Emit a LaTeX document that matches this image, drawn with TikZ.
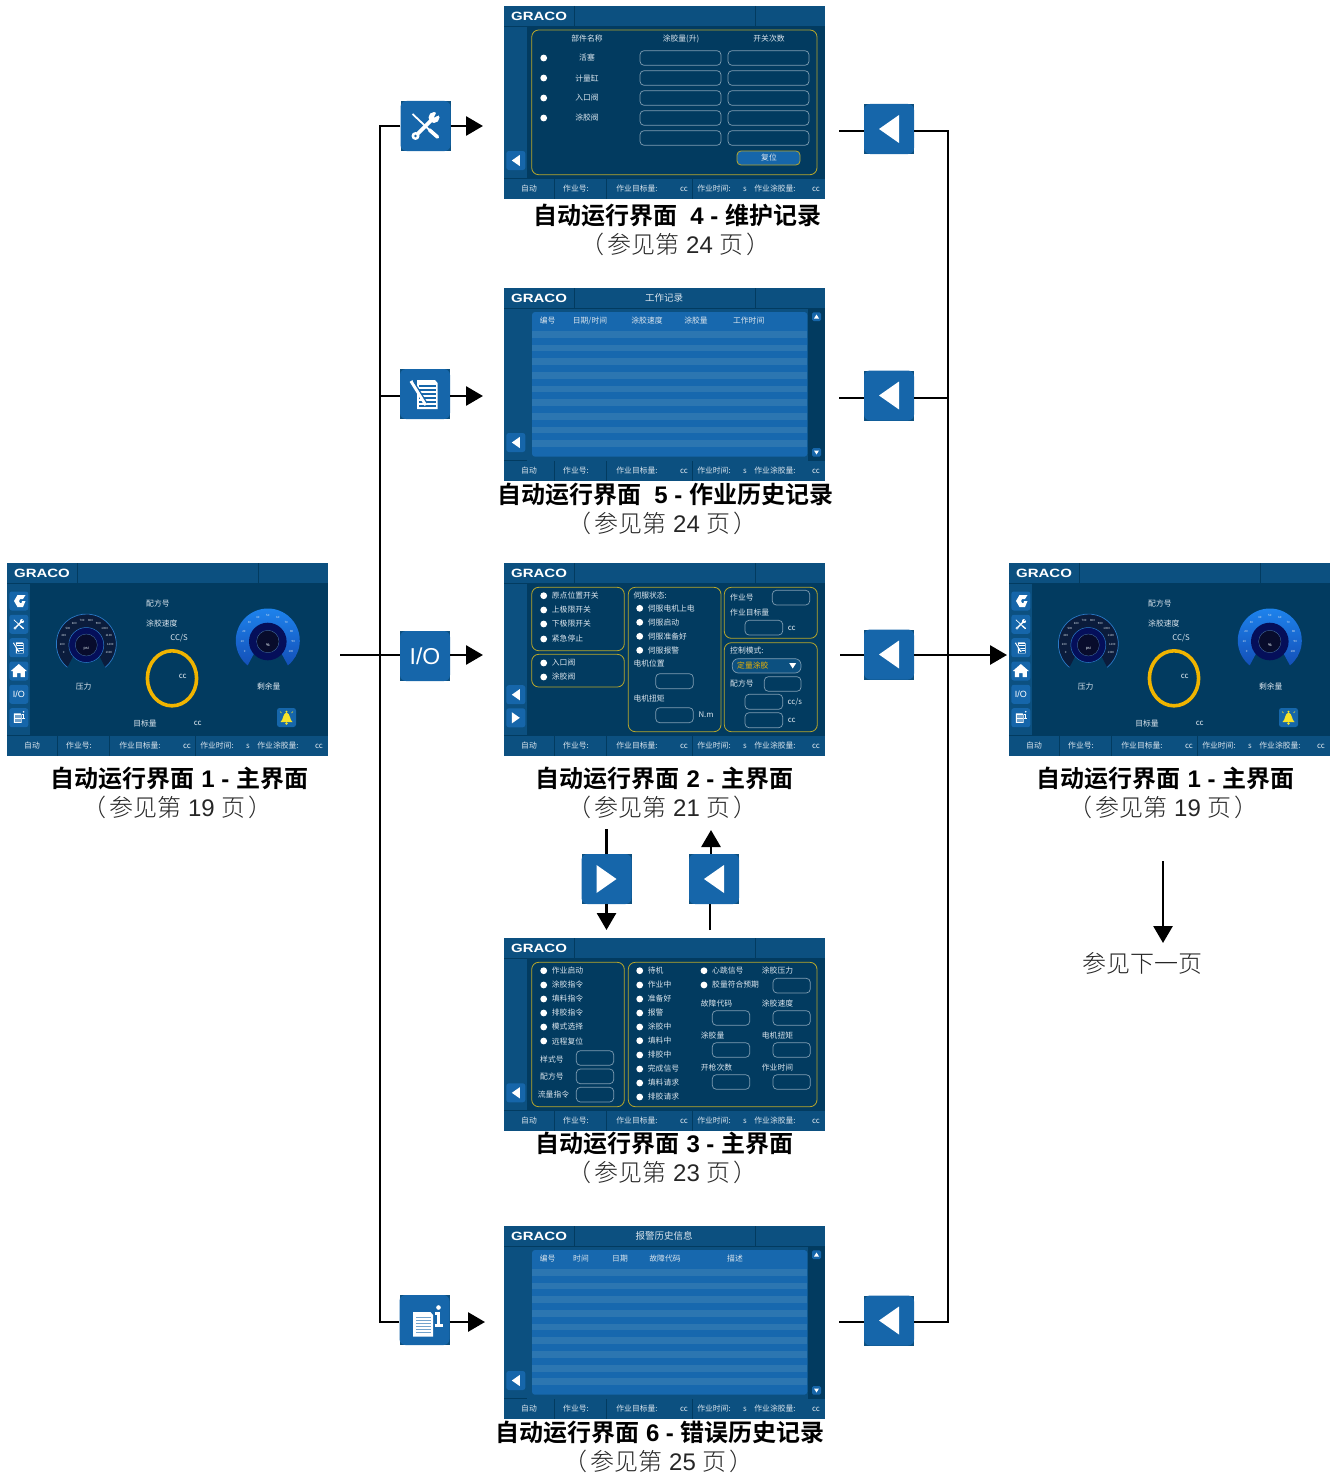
\documentclass[tikz,border=0pt]{standalone}
\usepackage{fontspec}
\setmainfont{Liberation Sans}
\newfontfamily\cjk{Noto Sans CJK SC}
\newfontfamily\cjkbold[UprightFont=*,BoldFont=* Bold]{Noto Sans CJK SC}
\newfontfamily\cjklight[UprightFont=* Light]{Noto Sans CJK SC}
\usetikzlibrary{arrows.meta,positioning,calc}
\definecolor{hdrblue}{HTML}{0C5080}
\definecolor{bodyblue}{HTML}{023B60}
\definecolor{btnblue}{HTML}{1666AA}
\definecolor{tableblue}{HTML}{1768AE}
\definecolor{stripeblue}{HTML}{2C76B1}
\definecolor{panelyellow}{HTML}{B8A72B}
\definecolor{ringyellow}{HTML}{F0B400}
\definecolor{uitext}{HTML}{DCE6EE}
\definecolor{boxline}{HTML}{7F9DB2}
\definecolor{gaugeband}{HTML}{0B1C3C}
\definecolor{gaugeedge}{HTML}{2A7AC8}
\definecolor{gaugenavy}{HTML}{050F5A}
\definecolor{gaugecore}{HTML}{080C2C}
\definecolor{gaugetop}{HTML}{1E86F0}
\definecolor{gaugebot}{HTML}{1450B8}
\definecolor{bellyellow}{HTML}{F6E32A}
\newcommand{\uifont}{\cjk\fontsize{7.8}{8}\selectfont}
\tikzset{
  screenbase/.style={fill=hdrblue,inner sep=0pt,minimum width=321pt,minimum height=193pt},
  corner/.style={fill=hdrblue,inner sep=0pt,minimum size=50pt},
  bigbtn/.style={fill=btnblue,rounded corners=6pt,inner sep=0pt,minimum size=50pt,text=white},
  flowline/.style={line width=2.8pt,line join=miter},
  flowarrow/.style={line width=2.8pt,-{Triangle[length=17pt,width=19pt]}},
  panel/.style={draw=panelyellow,line width=0.8pt,rounded corners=7pt},
  databox/.style={draw=boxline,line width=0.7pt,rounded corners=4pt},
  smallbtn/.style={fill=btnblue,rounded corners=2.5pt},
  maincap/.style={font=\fontsize{24}{26}\selectfont,inner sep=0pt},
  subcap/.style={font=\fontsize{24}{26}\selectfont,inner sep=0pt,black!85},
}

% icons, drawn around (x,y) with a scale
\newcommand{\toolicon}[3]{%
  \begin{scope}[shift={(#1,#2)},scale=#3]
    \draw[white,line width=#3*1.8pt] (-13,-12) -- (4,4);
    \draw[white,line width=#3*3.6pt,line cap=round] (4,4) -- (12,11);
    \draw[white,line width=#3*3.8pt] (-9,9) -- (6,-6);
    \fill[white] (8.5,-8.5) circle (5.5) (-10,10) circle (4);
    \fill[btnblue] (8.5,-8.5) -- (16,-12) -- (12,-16) -- cycle;
    \fill[btnblue] (-10,10) circle (1.3);
  \end{scope}}
\newcommand{\logicon}[3]{%
  \begin{scope}[shift={(#1,#2)},scale=#3]
    \fill[white] (-8,-14) -- (10,-14) -- (12.5,-11) -- (12.5,15) -- (-8,15) -- cycle;
    \foreach \ly in {-8,-4,0,4,8,12}
      \draw[btnblue,line width=#3*1.1pt] (-6,\ly) -- (11,\ly);
    \draw[white,line width=#3*3.2pt] (-14,-13) -- (1,11);
    \draw[btnblue,line width=#3*1.2pt] (-11.5,-13) -- (2,9);
  \end{scope}}
\newcommand{\infoicon}[3]{%
  \begin{scope}[shift={(#1,#2)},scale=#3]
    \fill[white] (-11.5,-8) -- (6,-8) -- (8.5,-5) -- (8.5,16.5) -- (-11.5,16.5) -- cycle;
    \foreach \ly in {-3,0,3,6,9,12}
      \draw[btnblue!60,line width=#3*1pt] (-8.5,\ly) -- (6,\ly);
    \fill[white] (14,-12.5) circle (2.3);
    \draw[white,line width=#3*2.4pt] (10.5,-6.5) -- (14,-6.5) -- (14,5.5) (10,5.5) -- (18,5.5);
  \end{scope}}
\newcommand{\leftarrowhead}[3]{\fill[white] (#1-#3,#2) -- (#1+#3,#2-#3*1.4) -- (#1+#3,#2+#3*1.4) -- cycle;}
\newcommand{\rightarrowhead}[3]{\fill[white] (#1+#3,#2) -- (#1-#3,#2-#3*1.4) -- (#1-#3,#2+#3*1.4) -- cycle;}

% big icon button: name, x, y, text
\newcommand{\bigbutton}[4]{%
  \node[corner] at (#2,#3) {};
  \node[bigbtn] (#1) at (#2,#3) {#4};}

% side buttons in a screen
\newcommand{\sidebtn}[1]{\fill[smallbtn] (2.3,#1-9.5) rectangle (21.3,#1+9.5);}
\newcommand{\backbtn}[1]{\sidebtn{#1}\leftarrowhead{11.8}{#1}{4}}
\newcommand{\fwdbtn}[1]{\sidebtn{#1}\rightarrowhead{11.8}{#1}{4}}
\newcommand{\dbox}[4]{\draw[databox] (#1,#2) rectangle (#3,#4);}
\newcommand{\txt}[3]{\node[inner sep=0pt] at (#1,#2) {#3};}
\newcommand{\ltxt}[3]{\node[anchor=west,inner sep=0pt] at (#1,#2) {#3};}
\newcommand{\ledrows}[2]{%
  \foreach \ly/\lt in {#2} {
    \fill[white] (#1,\ly) circle (3.4pt);
    \node[anchor=west,inner sep=0pt] at (#1+8,\ly) {\lt};
  }}

% one screen: name, x, y, title at the top, body
\newcommand{\screen}[5]{%
  \node[screenbase] (#1) at (#2+160.5,#3+96.5) {};
  \begin{scope}[shift={(#2,#3)},font=\uifont,text=uitext]
    \fill[bodyblue] (23,20.7) rectangle (321,172.5);
    \draw[bodyblue,line width=0.6pt] (0,20.7) -- (321,20.7) (70,0) -- (70,20.7) (251,0) -- (251,20.7)
      (0,172.5) -- (321,172.5) (50,172.5) -- (50,193) (102,172.5) -- (102,193) (188,172.5) -- (188,193);
    \node[inner sep=0pt,font=\fontsize{12}{12}\selectfont\bfseries,text=white] at (35,10.5) {\scalebox{1.25}[1]{GRACO}};
    \node[inner sep=0pt,font=\cjk\fontsize{9.5}{10}\selectfont] at (160,9.5) {#4};
    \txt{25}{183}{自动}
    \txt{72}{183}{作业号:}
    \txt{133}{183}{作业目标量:}
    \txt{180}{183}{cc}
    \txt{210}{183}{作业时间:}
    \txt{241}{183}{s}
    \txt{271}{183}{作业涂胶量:}
    \txt{312}{183}{cc}
    #5
  \end{scope}}

% blue table of the history screens
\newcommand{\historytable}{%
  \fill[hdrblue] (23,20.7) rectangle (304,172.5);
  \fill[tableblue,rounded corners=3pt] (28,24) rectangle (303.3,168.7);
  \foreach \i in {0,...,8}
    \fill[stripeblue] (28,43+\i*13.67) rectangle (303.3,49.8+\i*13.67);
  \fill[btnblue,rounded corners=1.5pt] (308,24.3) rectangle (317,33);
  \fill[btnblue,rounded corners=1.5pt] (308,160) rectangle (317,168.7);
  \fill[white] (312.5,26.5) -- (315,30.5) -- (310,30.5) -- cycle;
  \fill[white] (312.5,166.5) -- (315,162.5) -- (310,162.5) -- cycle;
  \backbtn{154.5}}

% main screen with the gauges
\newcommand{\mainscreen}[3]{%
  \screen{#1}{#2}{#3}{}{%
    \sidebtn{38}\sidebtn{61.3}\sidebtn{84.7}\sidebtn{108}\sidebtn{131.3}\sidebtn{154.7}
    \fill[white] (7,38) -- (10.5,32) -- (18.5,32) -- (16,36) -- (13,36) -- (12,38) -- (13,40) -- (14.5,40) -- (15,38) -- (16.5,38) -- (18.5,38) -- (16,44) -- (10.5,44) -- cycle;
    \toolicon{11.8}{61.3}{0.38}
    \logicon{11.8}{84.7}{0.38}
    \fill[white] (3.8,108) -- (11.8,101) -- (19.8,108) -- (17.8,108) -- (17.8,114) -- (13.5,114) -- (13.5,110) -- (10,110) -- (10,114) -- (5.8,114) -- (5.8,108) -- cycle;
    \node[text=white,inner sep=0pt,font=\fontsize{9}{9}\selectfont] at (11.8,131.3) {I/O};
    \infoicon{11.3}{153.5}{0.38}
    \begin{scope}[shift={(79.3,81)},y=1pt,font=\cjk\fontsize{2.9}{3}\selectfont]
      \fill[gaugeband] (231:30) arc (231:-51:30) -- (-40:16) -- (220:16) -- cycle;
      \draw[gaugeedge,line width=0.7pt] (231:30) arc (231:-51:30);
      \foreach \lab [count=\i from 0] in {0,200,400,500,600,700,800,900,1000,1100,1200,1300} {
        \pgfmathsetmacro\ga{200-\i*220/11}
        \node[inner sep=0pt] at (\ga:24) {\lab};
      }
      \fill[gaugenavy] (0,-1) circle (17.5pt);
      \draw[gaugeedge,line width=0.5pt] (0,-1) circle (17.5pt);
      \fill[gaugecore] (0,-1) circle (11pt);
      \draw[gaugeedge!60!gray,line width=0.3pt] (0,-1) circle (11pt);
      \node[inner sep=0pt,font=\fontsize{4}{4}\selectfont] at (0,-4) {psi};
    \end{scope}
    \begin{scope}[shift={(260.8,77.5)},y=1pt,font=\cjk\fontsize{2.9}{3}\selectfont]
      \shade[top color=gaugetop,bottom color=gaugebot] (231:32) arc (231:-51:32) -- (-40:16) -- (220:16) -- cycle;
      \foreach \lab [count=\i from 0] in {0,10,20,30,40,50,60,70,80,90,100} {
        \pgfmathsetmacro\ga{205-\i*230/10}
        \node[inner sep=0pt] at (\ga:25.5) {\lab};
      }
      \fill[gaugenavy] (0,-1) circle (18.8pt);
      \fill[gaugecore] (0,-1) circle (11.2pt);
      \draw[gaugeedge!60!gray,line width=0.3pt] (0,-1) circle (11.2pt);
      \node[inner sep=0pt,font=\fontsize{4}{4}\selectfont\bfseries] at (0,-5) {\%};
    \end{scope}
    \draw[ringyellow,line width=3.6pt] (165,115.3) ellipse [x radius=24.6pt,y radius=27.5pt];
    \ltxt{139}{41}{配方号}
    \ltxt{139}{61}{涂胶速度}
    \txt{172}{74.7}{CC/S}
    \txt{175.7}{113.3}{cc}
    \txt{76.7}{123.7}{压力}
    \txt{261.7}{123.7}{剩余量}
    \txt{138}{160.7}{目标量}
    \txt{190.7}{160.7}{cc}
    \fill[smallbtn] (270,145) rectangle (289,164);
    \fill[bellyellow] (273.5,159) .. controls (276.5,157) and (275.5,150.5) .. (279.5,149.5) .. controls (283.5,150.5) and (282.5,157) .. (285.5,159) -- cycle;
    \fill[bellyellow] (279.5,160.5) circle (1.4pt) (279.5,148.8) circle (1.1pt);
    \draw[bellyellow,line width=0.6pt] (274.5,150) -- (273,148.5) (284.5,150) -- (286,148.5);
  }}

\newcommand{\capjoin}[3]{{\cjkbold\bfseries #1}{\bfseries #2}{\cjkbold\bfseries #3}}
\newcommand{\pagecap}[1]{{\cjklight\hspace{-3pt}（\hspace{3pt}参见第}\ #1\ {\cjklight 页\hspace{3pt}）\hspace{-3pt}}}

\begin{document}
\begin{tikzpicture}[x=1pt,y=-1pt]
\useasboundingbox (0,0) rectangle (1338,1477);

\mainscreen{scrone}{7}{563}
\mainscreen{scrright}{1009}{563}

\screen{scrfour}{504}{6}{}{%
  \backbtn{154.5}
  \draw[panel] (27.7,24) rectangle (313,168.7);
  \txt{83}{32.7}{部件名称}
  \txt{177}{32.7}{涂胶量(升)}
  \txt{265}{32.7}{开关次数}
  \foreach \ly/\lt in {52/活塞,72/计量缸,92/入口阀,112/涂胶阀} {
    \fill[white] (39.7,\ly) circle (3.4pt);
    \txt{83}{\ly}{\lt}
  }
  \foreach \ly in {52,72,92,112,132} {
    \dbox{136}{\ly-7.3}{217}{\ly+7.3}
    \dbox{224}{\ly-7.3}{305}{\ly+7.3}
  }
  \draw[panelyellow,line width=0.8pt,fill=btnblue,rounded corners=4pt] (233,145) rectangle (296,159);
  \txt{265}{152}{复位}
}

\screen{scrfive}{504}{288}{工作记录}{%
  \historytable
  \txt{43.7}{32.7}{编号}
  \txt{86}{32.7}{日期/时间}
  \txt{143}{32.7}{涂胶速度}
  \txt{192}{32.7}{涂胶量}
  \txt{244.7}{32.7}{工作时间}
}

\screen{scrtwo}{504}{563}{}{%
  \backbtn{131.7}\fwdbtn{154.8}
  \draw[panel] (27.7,24.3) rectangle (120.3,87.7);
  \draw[panel] (27.7,91.3) rectangle (120.3,124);
  \draw[panel] (124.3,24.3) rectangle (217,168.7);
  \draw[panel] (220.3,24.3) rectangle (313.3,75.3);
  \draw[panel] (220.3,79.7) rectangle (313.3,168.7);
  \ledrows{39.7}{32.7/原点位置开关,47/上极限开关,61/下极限开关,76/紧急停止,100/入口阀,114/涂胶阀}
  \ltxt{129.3}{32.7}{伺服状态:}
  \ledrows{135.7}{45.3/伺服电机上电,59.3/伺服启动,73.3/伺服准备好,87.3/伺服报警}
  \ltxt{129.3}{101}{电机位置}
  \dbox{151.7}{110.7}{189.3}{125.7}
  \ltxt{129.3}{135.3}{电机扭矩}
  \dbox{151.7}{144.7}{189.3}{159.7}
  \ltxt{194.3}{152}{N.m}
  \ltxt{226}{35}{作业号}
  \dbox{268.3}{27.3}{305.7}{42}
  \ltxt{226}{49.7}{作业目标量}
  \dbox{241}{57.3}{278.7}{72}
  \ltxt{283.7}{65.3}{cc}
  \ltxt{226}{88}{控制模式:}
  \draw[boxline,line width=0.7pt,fill=hdrblue,rounded corners=6pt] (228.3,95.7) rectangle (297,110);
  \node[anchor=west,inner sep=0pt,text=ringyellow] at (233,102.8) {定量涂胶};
  \fill[white] (285.2,100) -- (292.2,100) -- (288.7,105.5) -- cycle;
  \ltxt{226}{120.3}{配方号}
  \dbox{260.3}{113.7}{297}{128.3}
  \dbox{241}{131.3}{278.7}{146.3}
  \ltxt{283.3}{139}{cc/s}
  \dbox{241}{149.7}{278.7}{164.7}
  \ltxt{283.7}{157.7}{cc}
}

\screen{scrthree}{504}{938}{}{%
  \backbtn{154.8}
  \draw[panel] (27.7,24.3) rectangle (120.3,168.7);
  \draw[panel] (124.3,24.3) rectangle (313,168.7);
  \ledrows{39.7}{32.7/作业启动,47/涂胶指令,61/填料指令,75/排胶指令,89/模式选择,103/远程复位}
  \ltxt{36}{121.3}{样式号}
  \dbox{72.3}{112.7}{109.7}{127.3}
  \ltxt{36}{138.3}{配方号}
  \dbox{72.3}{131}{109.7}{145.7}
  \ltxt{33.7}{156.7}{流量指令}
  \dbox{72.3}{149.3}{109.7}{164}
  \ledrows{135.7}{32.7/待机,47/作业中,61/准备好,75/报警,89/涂胶中,102.7/填料中,117/排胶中,131/完成信号,145/填料请求,159/排胶请求}
  \ledrows{200}{32.7/心跳信号,47/胶量符合预期}
  \ltxt{257.7}{32.7}{涂胶压力}
  \dbox{269}{40.3}{306.3}{55}
  \ltxt{196.7}{65.7}{故障代码}
  \dbox{208.3}{72.7}{245.7}{87.3}
  \ltxt{257.7}{65.7}{涂胶速度}
  \dbox{269}{72.7}{306.3}{87.3}
  \ltxt{196.7}{97.3}{涂胶量}
  \dbox{208.3}{104.7}{245.7}{119.3}
  \ltxt{257.7}{97.3}{电机扭矩}
  \dbox{269}{104.7}{306.3}{119.3}
  \ltxt{196.7}{129.3}{开枪次数}
  \dbox{208.3}{136.7}{245.7}{151.3}
  \ltxt{257.7}{129.3}{作业时间}
  \dbox{269}{136.7}{306.3}{151.3}
}

\screen{scrsix}{504}{1226}{报警历史信息}{%
  \historytable
  \txt{43.7}{32.7}{编号}
  \txt{77}{32.7}{时间}
  \txt{116}{32.7}{日期}
  \txt{161}{32.7}{故障代码}
  \txt{231}{32.7}{描述}
}

% captions
\node[maincap] (capone) at (179.5,778.5) {\capjoin{自动运行界面}{\ 1 - }{主界面}};
\node[subcap] (pageone) at (179,807) {\pagecap{19}};
\node[maincap] (capright) at (1165.5,778.5) {\capjoin{自动运行界面}{\ 1 - }{主界面}};
\node[subcap] (pageright) at (1165,807) {\pagecap{19}};
\node[maincap] (capfour) at (677,215.5) {\capjoin{自动运行界面}{\ \ 4 - }{维护记录}};
\node[subcap] (pagefour) at (677,244) {\pagecap{24}};
\node[maincap] (capfive) at (665,494.5) {\capjoin{自动运行界面}{\ \ 5 - }{作业历史记录}};
\node[subcap] (pagefive) at (664,523) {\pagecap{24}};
\node[maincap] (captwo) at (664.5,778.5) {\capjoin{自动运行界面}{\ 2 - }{主界面}};
\node[subcap] (pagetwo) at (664,807) {\pagecap{21}};
\node[maincap] (capthree) at (664.5,1143.5) {\capjoin{自动运行界面}{\ 3 - }{主界面}};
\node[subcap] (pagethree) at (664,1172) {\pagecap{23}};
\node[maincap] (capsix) at (660,1432.5) {\capjoin{自动运行界面}{\ 6 - }{错误历史记录}};
\node[subcap] (pagesix) at (660,1461) {\pagecap{25}};
\node[subcap] (nextpage) at (1142,963) {\cjklight 参见下一页};

% buttons
\bigbutton{btnfour}{425.5}{126}{}
\toolicon{425.5}{126}{1}
\bigbutton{btnfive}{425}{394}{}
\logicon{425}{394}{1}
\bigbutton{btnio}{425}{656}{\fontsize{23}{23}\selectfont I/O}
\bigbutton{btnsix}{424.5}{1320}{}
\infoicon{424.5}{1320}{1}
\bigbutton{backfour}{889}{129}{}
\leftarrowhead{889}{129}{10}
\bigbutton{backfive}{889}{395.5}{}
\leftarrowhead{889}{395.5}{10}
\bigbutton{backtwo}{889}{654.5}{}
\leftarrowhead{889}{654.5}{10}
\bigbutton{backsix}{889}{1320.5}{}
\leftarrowhead{889}{1320.5}{10}
\bigbutton{btndown}{606.5}{879}{}
\rightarrowhead{606.5}{879}{10}
\bigbutton{btnup}{714}{879}{}
\leftarrowhead{714}{879}{10}

% connectors
\coordinate (start) at (340,655);
\coordinate (trunktop) at (380,126);
\coordinate (trunkfive) at (380,396);
\coordinate (trunkbot) at (380,1322);
\coordinate (tipfour) at (483,126);
\coordinate (tipfive) at (483,396);
\coordinate (tipio) at (483,655);
\coordinate (tipsix) at (485,1322);
\coordinate (infour) at (839,131);
\coordinate (infive) at (839,398);
\coordinate (intwo) at (840,655);
\coordinate (insix) at (839,1322);
\coordinate (railtop) at (948,131);
\coordinate (railfive) at (948,398);
\coordinate (railbot) at (948,1322);
\coordinate (tipright) at (1007,655);
\coordinate (downtop) at (606.5,829);
\coordinate (downtip) at (606.5,930);
\coordinate (uptip) at (711,830);
\coordinate (upbot) at (710,930);
\coordinate (nexttop) at (1163,861);
\coordinate (nexttip) at (1163,943);

\draw[flowline] (start) -- (start -| btnio.west);
\draw[flowline] (btnfour.west) -- (trunktop) -- (trunkbot) -- (trunkbot -| btnsix.west);
\draw[flowline] (trunkfive) -- (trunkfive -| btnfive.west);
\draw[flowarrow] (tipfour -| btnfour.east) -- (tipfour);
\draw[flowarrow] (tipfive -| btnfive.east) -- (tipfive);
\draw[flowarrow] (tipio -| btnio.east) -- (tipio);
\draw[flowarrow] (tipsix -| btnsix.east) -- (tipsix);
\draw[flowline] (infour) -- (infour -| backfour.west);
\draw[flowline] (infive) -- (infive -| backfive.west);
\draw[flowline] (intwo) -- (intwo -| backtwo.west);
\draw[flowline] (insix) -- (insix -| backsix.west);
\draw[flowline] (railtop -| backfour.east) -- (railtop) -- (railbot) -- (railbot -| backsix.east);
\draw[flowline] (railfive -| backfive.east) -- (railfive);
\draw[flowarrow] (tipright -| backtwo.east) -- (tipright);
\draw[flowline] (downtop) -- (btndown.north);
\draw[flowarrow] (btndown.south) -- (downtip);
\draw[flowline] (upbot) -- (upbot |- btnup.south);
\draw[flowarrow] (uptip |- btnup.north) -- (uptip);
\draw[flowarrow] (nexttop) -- (nexttip);
\end{tikzpicture}
\end{document}
